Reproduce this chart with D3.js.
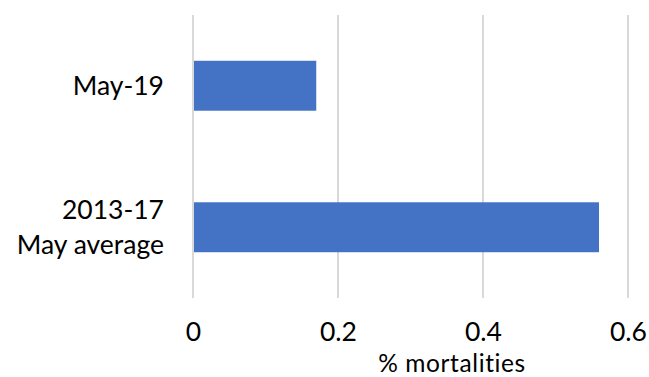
<!DOCTYPE html>
<html>
<head>
<meta charset="utf-8">
<script src="https://cdn.jsdelivr.net/npm/d3@7"></script>
<style>
  html, body { margin: 0; padding: 0; background: #fff; }
  svg text { font-family: Lato, "Open Sans", sans-serif; fill: #000; }
</style>
</head>
<body>
<svg id="chart" width="649" height="377"></svg>
<script>
// Mortality rates: May 2019 vs the 2013-17 May average
const categories = [["May-19"], ["2013-17", "May average"]];
const categoryKeys = ["May-19", "2013-17 May average"];
const values = [0.17, 0.56];
const ticks = [0, 0.2, 0.4, 0.6];
const axisTitle = "% mortalities";

const fontSize = 26.5;
const titleSize = 24.5;
const svg = d3.select("#chart");
const plot = { left: 193, right: 628, top: 15, bottom: 298 };

const x = d3.scaleLinear().domain([0, 0.6]).range([plot.left, plot.right]);
const y = d3.scaleBand().domain(categoryKeys).range([plot.top, plot.bottom])
  .paddingInner(0.647).paddingOuter(0.3235);

// vertical gridlines
svg.append("g").selectAll("line").data(ticks).join("line")
  .attr("x1", d => x(d)).attr("x2", d => x(d))
  .attr("y1", plot.top).attr("y2", plot.bottom)
  .attr("stroke", "#d9d9d9").attr("stroke-width", 2);

// bars
svg.append("g").selectAll("rect").data(values).join("rect")
  .attr("x", x(0) + 1)
  .attr("y", (d, i) => y(categoryKeys[i]))
  .attr("width", d => x(d) - x(0) - 1)
  .attr("height", y.bandwidth())
  .attr("fill", "#4472c4");

// x tick labels
const xAxis = d3.axisBottom(x).tickValues(ticks).tickSize(0).tickFormat(d => d === 0 ? "0" : d3.format(".1f")(d));
const gx = svg.append("g").attr("transform", `translate(0, ${plot.bottom})`).call(xAxis);
gx.select(".domain").remove();
gx.selectAll("text").attr("font-size", fontSize).attr("font-family", "Lato, sans-serif")
  .attr("dy", null).attr("y", 43).attr("fill", "#000");

// category labels
const cat = svg.append("g").selectAll("text").data(categories).join("text")
  .attr("text-anchor", "end").attr("font-size", fontSize)
  .attr("x", 164)
  .attr("y", (d, i) => y(categoryKeys[i]) + y.bandwidth() / 2 + (d.length === 1 ? 9 : -8));
cat.selectAll("tspan").data(d => d).join("tspan")
  .attr("x", 164).attr("dy", (d, i) => i === 0 ? 0 : 35).text(d => d);

// axis title
svg.append("text").attr("x", 452).attr("y", 371.5).attr("text-anchor", "middle")
  .attr("font-size", titleSize).attr("letter-spacing", 0.6).text(axisTitle);
</script>
</body>
</html>
